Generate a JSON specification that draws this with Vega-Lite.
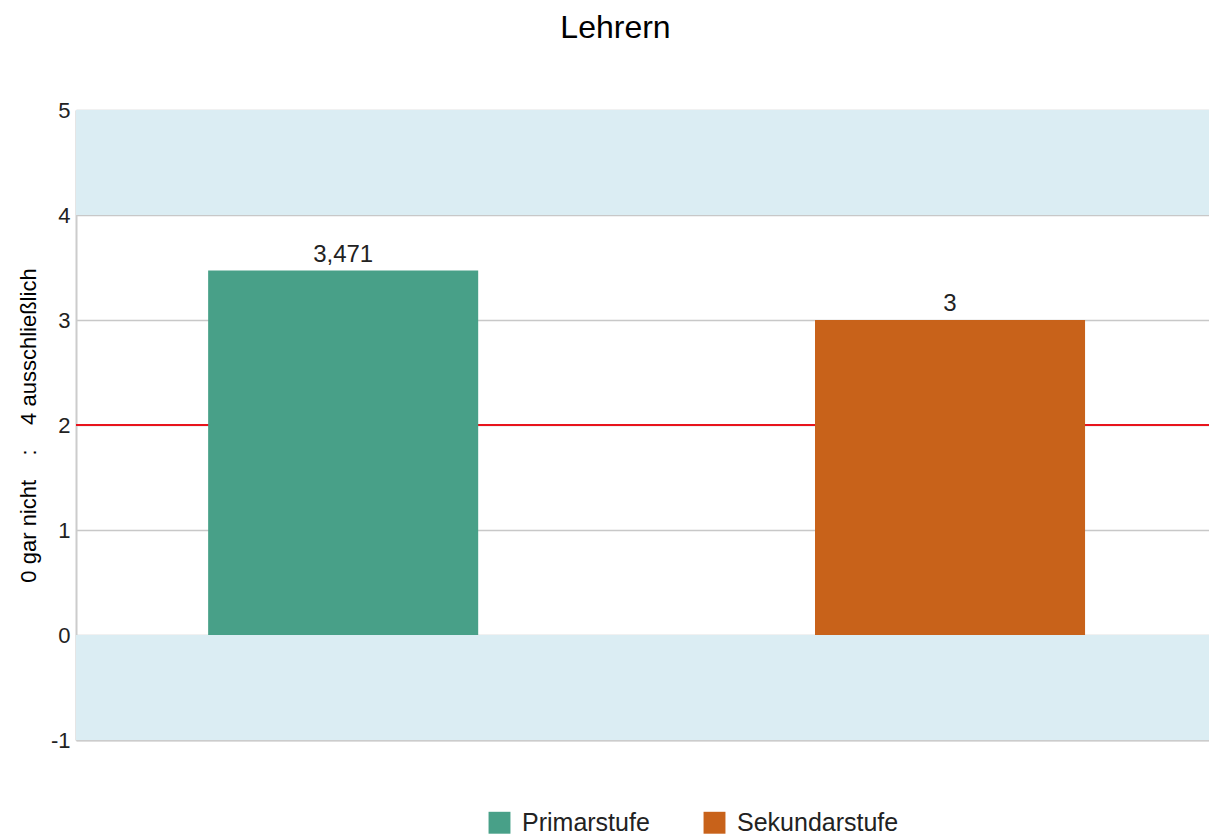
{
  "$schema": "https://vega.github.io/schema/vega-lite/v6.json",
  "width": 1133,
  "height": 630,
  "autosize": {"type": "none"},
  "padding": {"left": 76, "top": 110, "right": 0, "bottom": 100},
  "title": {"text": "Lehrern", "fontSize": 32, "font": "Liberation Sans", "fontWeight": "normal", "color": "#000000", "anchor": "middle", "frame": "group", "dx": -27, "offset": 54},
  "datasets": {
    "bands": [{"y0": 4, "y1": 5}, {"y0": -1, "y1": 0}],
    "ref": [{"y": 2}],
    "vals": [{"stufe": "Primarstufe", "wert": 3.471}, {"stufe": "Sekundarstufe", "wert": 3}]
  },
  "layer": [
    {
      "data": {"name": "bands"},
      "mark": {"type": "rect", "color": "#dbedf3"},
      "encoding": {
        "y": {"field": "y0", "type": "quantitative", "scale": {"domain": [-1, 5], "nice": false, "zero": false},
          "axis": {"title": "0 gar nicht\u00a0\u00a0\u00a0\u00a0:\u00a0\u00a0\u00a0\u00a04 ausschließlich", "values": [-1, 0, 1, 2, 3, 4, 5], "format": "d", "ticks": false, "labelPadding": 6,
            "labelFontSize": 22, "labelFont": "Liberation Sans", "labelColor": "#222222",
            "titleFontSize": 22, "titleFont": "Liberation Sans", "titleFontWeight": "normal", "titleColor": "#000000", "titlePadding": 10, "titleLimit": 600,
            "gridColor": "#c8c8c8", "gridWidth": 1.5, "domainColor": "#cccccc", "domainWidth": 2}},
        "y2": {"field": "y1"}
      }
    },
    {
      "data": {"name": "ref"},
      "mark": {"type": "rule", "color": "#e8141c", "strokeWidth": 2},
      "encoding": {"y": {"field": "y", "type": "quantitative"}}
    },
    {
      "data": {"name": "vals"},
      "mark": {"type": "bar"},
      "encoding": {
        "x": {"field": "stufe", "type": "nominal", "scale": {"paddingInner": 0.555, "paddingOuter": 0.211, "align": 0.516},
          "axis": {"title": null, "labels": false, "ticks": false, "grid": false, "domainColor": "#cccccc", "domainWidth": 2}},
        "y": {"field": "wert", "type": "quantitative"},
        "color": {"field": "stufe", "type": "nominal", "scale": {"range": ["#48a088", "#c8621a"]},
          "legend": {"title": null, "orient": "none", "direction": "horizontal", "legendX": 411, "legendY": 700,
            "symbolType": "square", "symbolSize": 480, "symbolStrokeWidth": 0, "symbolOpacity": 1,
            "labelFontSize": 25, "labelFont": "Liberation Sans", "labelColor": "#222222", "labelOffset": 10, "labelLimit": 400, "columnPadding": 52}}
      }
    },
    {
      "data": {"name": "vals"},
      "mark": {"type": "text", "baseline": "bottom", "dy": -4, "fontSize": 24, "font": "Liberation Sans", "color": "#222222"},
      "encoding": {
        "x": {"field": "stufe", "type": "nominal"},
        "y": {"field": "wert", "type": "quantitative"},
        "text": {"field": "wert", "type": "quantitative", "format": ".4~g"}
      }
    }
  ],
  "config": {
    "view": {"stroke": null},
    "locale": {"number": {"decimal": ",", "thousands": ".", "grouping": [3], "currency": ["", " €"], "minus": "-"}}
  }
}
